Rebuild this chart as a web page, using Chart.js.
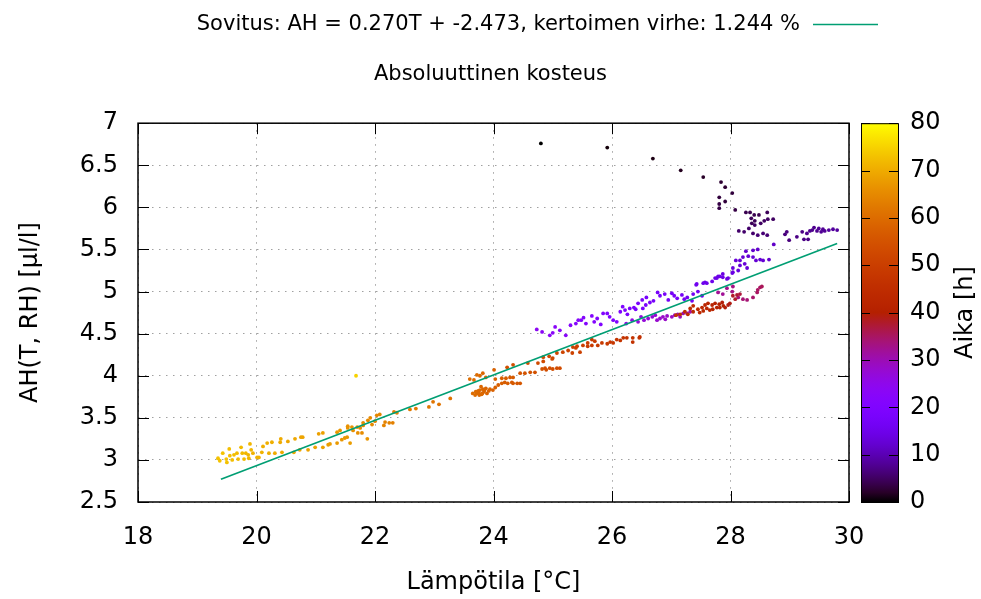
<!DOCTYPE html>
<html lang="fi">
<head>
<meta charset="utf-8">
<title>Absoluuttinen kosteus</title>
<script src="https://cdn.jsdelivr.net/npm/chart.js@4.4.1/dist/chart.umd.min.js"></script>
<style>
  html, body { margin: 0; padding: 0; background: #fff; }
  #wrap { position: relative; width: 981px; height: 599px; }
</style>
</head>
<body>
<div id="wrap"><canvas id="chart"></canvas></div>
<script>
// Absolute humidity vs. temperature, coloured by elapsed time

// Temperature [°C] of each measurement, grouped roughly in time order
var tempC = [
  24.80, 25.92, 26.69, 27.16, 27.54, 27.84, 27.91, 28.03, 27.81, 27.91, 27.81, 27.81, 28.08,
  28.26, 28.33, 28.40, 28.48, 28.62, 28.35, 28.41, 28.36, 28.41, 28.51, 28.57, 28.63, 28.72, 28.31, 28.23, 28.14, 28.38, 28.46, 28.55, 28.62,
  28.95, 28.92, 28.99, 29.12, 29.21, 29.24, 29.31, 29.29, 29.34, 29.38, 29.41, 29.46, 29.49, 29.53, 29.56, 29.59, 29.66, 29.73, 29.80,
  28.73, 28.46, 28.38, 28.26, 28.30, 28.21, 28.16, 28.09, 28.38, 28.43, 28.50, 28.55, 28.65, 28.16, 28.24, 28.28, 28.13, 28.04, 28.03, 27.96,
  27.87, 27.79, 27.77, 27.69, 27.57, 27.43, 27.60, 27.74, 27.82, 27.87, 28.04, 27.42, 27.54, 27.94,
  27.52, 27.37, 27.35, 27.27, 27.18, 27.10, 27.01, 26.95, 26.89, 26.81, 26.64, 26.57, 26.52, 26.51, 26.44, 26.37, 26.30, 26.22, 26.14, 26.08,
  26.02, 25.92, 25.85, 25.81, 25.75, 25.66, 25.56, 25.48, 25.43, 25.39, 25.22, 25.04, 25.00, 24.82, 24.73,
  25.30, 25.52, 25.70, 25.96, 26.18, 26.26, 26.40, 26.58, 26.70, 26.77, 27.05, 27.22, 27.45, 24.95, 25.12,
  26.34, 26.44, 26.54, 26.61, 26.68, 26.73, 26.76, 26.81, 26.86, 26.93, 27.01, 27.06, 27.11, 27.20, 27.27, 27.32, 26.24, 26.49, 26.90, 27.15,
  27.79, 27.87, 27.94, 28.03, 28.04, 28.13, 28.21, 28.28, 28.38, 28.45, 28.50, 28.53, 28.46,
  28.16, 28.11, 28.04, 28.08, 27.96, 27.91, 27.86, 27.81, 27.82, 27.77, 27.74, 27.69, 27.62, 27.65, 27.57, 27.54, 27.52, 27.45, 27.37, 27.37,
  27.32, 27.23, 27.15, 27.08, 27.60, 27.70, 27.88, 27.99, 27.48, 27.28,
  26.47, 26.46, 26.35, 26.35, 26.25, 26.19, 26.14, 26.08, 26.02, 25.97, 25.92, 25.83, 25.76, 25.71, 25.66, 25.66, 25.59, 25.59, 25.51, 25.46,
  25.41, 25.39, 25.34, 25.33, 25.26, 25.17, 25.07,
  25.00, 24.99, 24.94, 24.84, 24.84, 24.75, 24.58, 24.33, 24.23,
  25.12, 25.07, 25.00, 24.95, 24.89, 24.87, 24.82, 24.70, 24.62, 24.53, 24.45,
  24.45, 24.40, 24.33, 24.33, 24.31, 24.28, 24.24, 24.21, 24.19, 24.14, 24.14, 24.08, 24.03, 24.03, 24.01, 23.99, 23.94, 23.89, 23.87, 23.87,
  23.84, 23.82, 23.82, 23.81, 23.79, 23.77, 23.77, 23.76, 23.74, 23.72, 23.72, 23.67, 23.65, 23.60, 23.70, 23.75, 23.80, 23.85, 23.92, 23.69,
  23.27, 23.08, 22.98, 22.91, 22.69, 22.59, 22.32,
  22.37, 22.30, 22.24, 22.17, 22.15, 22.08, 22.03, 22.00, 21.95, 21.92, 21.88, 21.87, 21.80, 21.80, 21.78, 21.75, 21.71, 21.70, 21.63, 21.61,
  21.54, 21.54, 21.53, 21.49, 21.44, 21.41, 21.36, 21.36, 21.58,
  21.68,
  21.24, 21.21, 21.12, 21.12, 21.05, 20.99, 20.87, 20.78, 20.75, 20.73, 20.63, 20.65, 20.53, 20.43, 20.41, 20.40, 20.31, 20.26, 20.21, 20.18,
  20.11, 20.09, 20.04, 20.01, 19.94, 19.87, 19.91, 19.89, 19.86, 19.82, 19.79, 19.76, 19.74, 19.69, 19.67, 19.62, 19.59, 19.55, 19.54, 19.50,
  19.49, 19.43, 19.38, 19.35
];

// Absolute humidity [µl/l], same order as tempC
var ahUl = [
  6.76, 6.71, 6.58, 6.44, 6.36, 6.30, 6.24, 6.17, 6.12, 6.07, 6.04, 5.99, 5.97,
  5.94, 5.94, 5.91, 5.91, 5.94, 5.87, 5.84, 5.81, 5.79, 5.81, 5.84, 5.86, 5.86, 5.75, 5.71, 5.72, 5.69, 5.67, 5.69, 5.67,
  5.71, 5.68, 5.61, 5.65, 5.71, 5.62, 5.62, 5.69, 5.72, 5.73, 5.76, 5.72, 5.75, 5.71, 5.74, 5.72, 5.73, 5.74, 5.73,
  5.56, 5.50, 5.49, 5.48, 5.42, 5.41, 5.37, 5.37, 5.41, 5.37, 5.38, 5.37, 5.38, 5.31, 5.33, 5.28, 5.25, 5.28, 5.22, 5.16,
  5.17, 5.18, 5.16, 5.12, 5.11, 5.09, 5.10, 5.16, 5.18, 5.21, 5.23, 5.08, 5.10, 5.15,
  4.95, 4.97, 4.89, 4.93, 4.96, 4.92, 4.98, 4.90, 4.97, 4.95, 4.87, 4.84, 4.80, 4.90, 4.86, 4.81, 4.80, 4.78, 4.76, 4.64,
  4.66, 4.74, 4.74, 4.61, 4.68, 4.71, 4.62, 4.66, 4.66, 4.62, 4.48, 4.58, 4.51, 4.52, 4.55,
  4.60, 4.69, 4.64, 4.70, 4.82, 4.73, 4.79, 4.93, 4.89, 4.99, 4.95, 4.91, 5.00, 4.48, 4.54,
  4.66, 4.64, 4.66, 4.68, 4.70, 4.72, 4.66, 4.68, 4.70, 4.71, 4.70, 4.72, 4.73, 4.74, 4.74, 4.76, 4.62, 4.70, 4.67, 4.70,
  4.99, 4.97, 5.04, 5.00, 5.06, 4.93, 4.91, 4.90, 4.93, 4.99, 5.05, 5.06, 5.02,
  4.97, 4.96, 4.95, 4.91, 4.84, 4.81, 4.87, 4.85, 4.81, 4.81, 4.86, 4.84, 4.86, 4.78, 4.84, 4.77, 4.81, 4.79, 4.76, 4.83,
  4.80, 4.76, 4.73, 4.72, 4.80, 4.79, 4.83, 4.86, 4.75, 4.73,
  4.46, 4.45, 4.45, 4.40, 4.45, 4.45, 4.42, 4.43, 4.39, 4.40, 4.38, 4.39, 4.36, 4.41, 4.36, 4.43, 4.39, 4.35, 4.36, 4.28,
  4.35, 4.33, 4.34, 4.27, 4.30, 4.28, 4.27,
  4.21, 4.20, 4.23, 4.22, 4.17, 4.15, 4.15, 4.13, 4.10,
  4.09, 4.09, 4.08, 4.09, 4.07, 4.09, 4.08, 4.04, 4.04, 4.03, 4.03,
  3.91, 3.91, 3.91, 3.98, 3.92, 3.98, 3.91, 3.97, 3.92, 3.91, 3.97, 3.89, 3.86, 3.96, 4.07, 3.83, 3.84, 3.79, 3.85, 3.98,
  3.81, 3.84, 4.03, 3.79, 3.87, 3.83, 4.00, 3.77, 3.82, 3.79, 4.01, 3.95, 3.79, 3.96, 3.81, 3.80, 3.78, 3.83, 3.82, 3.77,
  3.73, 3.66, 3.69, 3.63, 3.61, 3.60, 3.57,
  3.56, 3.44, 3.44, 3.45, 3.41, 3.54, 3.53, 3.46, 3.42, 3.50, 3.47, 3.25, 3.41, 3.44, 3.32, 3.38, 3.32, 3.39, 3.35, 3.39,
  3.40, 3.38, 3.27, 3.26, 3.24, 3.35, 3.33, 3.20, 3.20,
  4.00,
  3.19, 3.18, 3.15, 3.32, 3.31, 3.15, 3.12, 3.27, 3.27, 3.12, 3.09, 3.25, 3.22, 3.09, 3.25, 3.21, 3.08, 3.21, 3.08, 3.20,
  3.16, 3.09, 3.03, 3.03, 3.08, 3.02, 3.12, 3.19, 3.06, 3.08, 3.01, 3.08, 3.15, 3.01, 3.08, 3.06, 3.00, 3.05, 3.13, 2.97,
  3.01, 3.08, 2.99, 3.02
];

// Elapsed time [h] of each measurement (point colour)
var timeH = [
  0, 0.5, 1, 1.5, 2, 2.5, 2.5, 3, 3, 3, 3.5, 3.5, 3.5,
  4, 4, 4, 4, 4.5, 4.5, 4.5, 4.5, 5, 5, 5, 5, 5, 5.5, 5.5, 5.5, 5.5, 6, 6, 6,
  6.5, 6.5, 6.5, 7, 7, 7, 7, 7.5, 7.5, 7.5, 7.5, 7.5, 8, 8, 8, 8, 8.5, 8.5, 8.5,
  11.5, 12, 12, 12, 12.5, 12.5, 12.5, 13, 12.5, 12.5, 12.5, 12.5, 12, 13, 13, 13, 13.5, 13.5, 14, 14,
  14.5, 14.5, 14.5, 15, 15, 15.5, 15, 14.5, 14.5, 14, 14, 15.5, 15, 14,
  16, 16, 16.5, 16.5, 16.5, 17, 17, 17, 17.5, 17.5, 18, 18, 18.5, 18, 18.5, 19, 19, 19.5, 19.5, 20,
  20, 20, 20.5, 20.5, 21, 21, 21.5, 21.5, 22, 22, 22.5, 23, 23, 23.5, 24,
  22, 21.5, 21, 20, 19.5, 19, 18.5, 18, 17.5, 17.5, 17, 16.5, 16, 23, 22.5,
  26, 26.5, 27, 27, 27.5, 27.5, 28, 28, 28.5, 28.5, 29, 29, 29.5, 30, 30, 30.5, 25.5, 26.5, 28.5, 29.5,
  32, 32, 32.5, 33, 33, 33.5, 34, 34, 34.5, 35, 35, 35.5, 35,
  37, 37.5, 38, 38, 39, 39.5, 39.5, 40, 40.5, 40.5, 41, 41.5, 42, 42, 42.5, 43, 43, 43.5, 44, 44,
  44.5, 45, 45.5, 46, 42.5, 41.5, 40, 39, 43.5, 44.5,
  46, 46, 46.5, 46.5, 47, 47, 47.5, 47.5, 48, 48, 48.5, 48.5, 49, 49, 49, 49, 49.5, 49.5, 50, 50.5,
  50.5, 51, 51, 51, 51.5, 51.5, 52,
  52.5, 52.5, 52.5, 53, 53, 53, 53.5, 54, 54,
  53.5, 53.5, 54, 54, 54, 54, 54.5, 54.5, 55, 55, 55.5,
  56, 56, 56.5, 56.5, 56.5, 56.5, 57, 57, 57, 57.5, 57.5, 57.5, 58, 58, 58, 58, 58.5, 58.5, 58.5, 58.5,
  59, 59, 59, 59, 59, 59.5, 59.5, 59.5, 59.5, 60, 60, 60, 60, 60.5, 60, 59.5, 59.5, 59, 58.5, 60,
  61, 61.5, 61.5, 62, 62.5, 62.5, 63,
  63.5, 63.5, 64, 64, 64, 64.5, 64.5, 64.5, 65, 65, 65, 67, 65.5, 65.5, 65.5, 65.5, 66, 66, 66, 66.5,
  66.5, 66.5, 67, 67, 67, 67, 67.5, 67.5, 68,
  75,
  68, 68, 68.5, 68.5, 68.5, 69, 69, 69, 69, 69.5, 69.5, 69.5, 69.5, 70, 70, 70, 70, 70.5, 70.5, 70.5,
  70.5, 71, 71, 71, 71, 71.5, 71.5, 71.5, 71.5, 71.5, 72, 72, 72, 72, 72, 72.5, 72.5, 72.5, 72.5, 73,
  73, 73, 73, 73
];

// Least-squares fit line end points and its key text
var fitT = [19.4, 29.8];
var fitAH = [2.77, 5.57];
var fitLabel = "Sovitus: AH = 0.270T + -2.473, kertoimen virhe: 1.244 %";

var xTicks = [18, 30, 2];      // min, max, step
var yTicks = [2.5, 7, 0.5];
var cbTicks = [0, 80, 10];

var chartTitle = "Absoluuttinen kosteus";
var xTitle = "Lämpötila [°C]";
var yTitle = "AH(T, RH) [µl/l]";
var cbTitle = "Aika [h]";

(function () {
  "use strict";

  var FONT = '"DejaVu Sans", sans-serif';
  var FIT_COLOR = "#009e73";
  var TICK_LEN = 11;

  Chart.defaults.font.family = FONT;
  Chart.defaults.color = "#000";

  // gnuplot default palette (rgbformulae 7,5,15)
  function palette(t) {
    var r = Math.sqrt(t);
    var g = t * t * t;
    var b = Math.max(0, Math.sin(2 * Math.PI * t));
    return "rgb(" + Math.round(255 * r) + "," + Math.round(255 * g) + "," + Math.round(255 * b) + ")";
  }

  var points = tempC.map(function (t, i) { return { x: t, y: ahUl[i] }; });
  var colors = timeH.map(function (h) { return palette((h - cbTicks[0]) / (cbTicks[1] - cbTicks[0])); });
  var fitPoints = fitT.map(function (t, i) { return { x: t, y: fitAH[i] }; });

  function plainNumber(v) { return String(+Number(v).toFixed(2)); }

  // Border box with inward (mirrored) tics, like gnuplot
  var framePlugin = {
    id: "frame",
    afterDatasetsDraw: function (chart) {
      var a = chart.chartArea;
      var ctx = chart.ctx;
      ctx.save();
      ctx.strokeStyle = "#000";
      ctx.lineWidth = 1;
      ctx.beginPath();
      chart.scales.x.ticks.forEach(function (t) {
        var px = Math.round(chart.scales.x.getPixelForValue(t.value)) + 0.5;
        ctx.moveTo(px, a.bottom); ctx.lineTo(px, a.bottom - TICK_LEN);
        ctx.moveTo(px, a.top); ctx.lineTo(px, a.top + TICK_LEN);
      });
      chart.scales.y.ticks.forEach(function (t) {
        var py = Math.round(chart.scales.y.getPixelForValue(t.value)) + 0.5;
        ctx.moveTo(a.left, py); ctx.lineTo(a.left + TICK_LEN, py);
        ctx.moveTo(a.right, py); ctx.lineTo(a.right - TICK_LEN, py);
      });
      ctx.stroke();
      ctx.lineWidth = 1.5;
      ctx.strokeRect(a.left, a.top, a.right - a.left, a.bottom - a.top);
      ctx.restore();
    }
  };

  // Colour box on the right, uses the y2 scale for its tics
  var colorbarPlugin = {
    id: "colorbar",
    afterDraw: function (chart) {
      var s = chart.scales.y2;
      var ctx = chart.ctx;
      var x0 = chart.chartArea.right + 12;
      var w = 37;
      var grad = ctx.createLinearGradient(0, s.bottom, 0, s.top);
      for (var i = 0; i <= 40; i++) grad.addColorStop(i / 40, palette(i / 40));
      ctx.save();
      ctx.fillStyle = grad;
      ctx.fillRect(x0, s.top, w, s.bottom - s.top);
      ctx.strokeStyle = "#000";
      ctx.lineWidth = 1;
      ctx.beginPath();
      s.ticks.forEach(function (t) {
        var py = Math.round(s.getPixelForValue(t.value)) + 0.5;
        ctx.moveTo(x0, py); ctx.lineTo(x0 + 9, py);
        ctx.moveTo(x0 + w - 9, py); ctx.lineTo(x0 + w, py);
      });
      ctx.stroke();
      ctx.strokeRect(x0 + 0.5, s.top + 0.5, w, s.bottom - s.top);

      // colour box title, reads bottom to top
      ctx.translate(966, (s.top + s.bottom) / 2);
      ctx.rotate(-Math.PI / 2);
      ctx.font = "24px " + FONT;
      ctx.fillStyle = "#000";
      ctx.textAlign = "center";
      ctx.textBaseline = "middle";
      ctx.fillText(cbTitle, 0, 0);
      ctx.restore();
    }
  };

  // gnuplot style key: text, then line sample
  var keyPlugin = {
    id: "key",
    afterDraw: function (chart) {
      var ds = chart.data.datasets[0];
      var right = chart.chartArea.right;
      var ctx = chart.ctx;
      ctx.save();
      ctx.font = "21px " + FONT;
      ctx.fillStyle = "#000";
      ctx.textAlign = "right";
      ctx.textBaseline = "middle";
      ctx.fillText(ds.label, right - 49, 25);
      ctx.strokeStyle = ds.borderColor;
      ctx.lineWidth = 1.5;
      ctx.beginPath();
      ctx.moveTo(right - 36, 24.5);
      ctx.lineTo(right + 29, 24.5);
      ctx.stroke();
      ctx.restore();
    }
  };

  var gridOpts = { color: "#a0a0a0", lineWidth: 1, drawTicks: false };
  var dotted = { display: false, dash: [1.5, 5.5] };

  new Chart(document.getElementById("chart"), {
    type: "scatter",
    data: {
      datasets: [
        {
          type: "line",
          label: fitLabel,
          data: fitPoints,
          borderColor: FIT_COLOR,
          borderWidth: 1.7,
          pointRadius: 0,
          fill: false,
          order: 0
        },
        {
          label: "AH",
          data: points,
          backgroundColor: colors,
          borderWidth: 0,
          pointRadius: 1.9,
          order: 1
        }
      ]
    },
    options: {
      responsive: true,
      maintainAspectRatio: false,
      animation: false,
      layout: { padding: 0 },
      plugins: {
        legend: { display: false },
        tooltip: { enabled: false },
        title: {
          display: true,
          text: chartTitle,
          color: "#000",
          font: { size: 21, weight: "normal" },
          padding: { top: 62, bottom: 36 }
        }
      },
      scales: {
        x: {
          type: "linear",
          min: xTicks[0],
          max: xTicks[1],
          ticks: { stepSize: xTicks[2], padding: 21, font: { size: 24 }, color: "#000" },
          grid: gridOpts,
          border: dotted,
          title: { display: true, text: xTitle, font: { size: 24 }, color: "#000", padding: { top: 0, bottom: 2 } },
          afterFit: function (s) { s.height = 97; }
        },
        y: {
          type: "linear",
          min: yTicks[0],
          max: yTicks[1],
          ticks: { stepSize: yTicks[2], padding: 20, font: { size: 24 }, color: "#000", callback: plainNumber },
          grid: gridOpts,
          border: dotted,
          title: { display: true, text: yTitle, font: { size: 24 }, color: "#000", padding: { top: 16, bottom: 0 } },
          afterFit: function (s) { s.width = 138; }
        },
        y2: {
          type: "linear",
          display: true,
          position: "right",
          min: cbTicks[0],
          max: cbTicks[1],
          ticks: { stepSize: cbTicks[2], padding: 61, font: { size: 24 }, color: "#000" },
          grid: { display: false, drawTicks: false },
          border: { display: false },
          afterFit: function (s) { s.width = 132; }
        }
      }
    },
    plugins: [framePlugin, colorbarPlugin, keyPlugin]
  });
})();
</script>
</body>
</html>
